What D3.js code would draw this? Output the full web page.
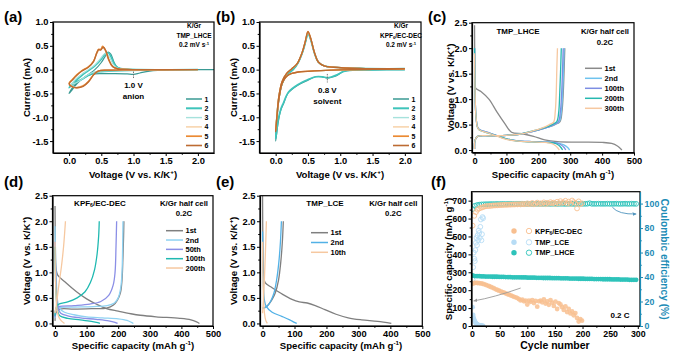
<!DOCTYPE html>
<html>
<head>
<meta charset="utf-8">
<script src="https://cdn.jsdelivr.net/npm/d3@7"></script>
<style>
  body { margin: 0; background: #fff; }
  svg { display: block; font-family: "Liberation Sans", Arial, sans-serif; font-weight: bold; }
</style>
</head>
<body>
<svg id="fig" width="673" height="353"></svg>
<script>
// ---------- data ----------

// (a) CV, K/Gr in TMP_LHCE, cycles 1-6  [voltage, current]
const cvLabels = ["1", "2", "3", "4", "5", "6"];
const cvColors = ["#3a9a93", "#3fc4bb", "#a6e2dc", "#f7cfa2", "#eb8a33", "#bd6b32"];
const cvWidths = [1.2, 1.7, 1.1, 1.1, 1.4, 1.3];

const cvA1 = [[2.25,0],[1.6,-0.005],[1.25,-0.03],[1.1,-0.07],[1.0,-0.1],[0.9,-0.09],[0.7,-0.085],[0.5,-0.085],[0.4,-0.09],[0.3,-0.12],[0.2,-0.2],[0.12,-0.28],[0.05,-0.38],[0.0,-0.5],[0.05,-0.42],[0.1,-0.33],[0.2,-0.2],[0.3,-0.1],[0.4,0.0],[0.5,0.15],[0.56,0.28],[0.61,0.37],[0.65,0.32],[0.7,0.15],[0.75,0.05],[0.85,0.01],[1.0,0.0],[2.0,0.0]];
const cvA2 = [[2.0,0],[1.2,-0.01],[0.8,-0.02],[0.5,-0.04],[0.4,-0.06],[0.3,-0.12],[0.2,-0.2],[0.12,-0.26],[0.05,-0.3],[0.0,-0.38],[0.05,-0.32],[0.1,-0.24],[0.2,-0.12],[0.3,-0.02],[0.4,0.08],[0.5,0.22],[0.56,0.33],[0.6,0.36],[0.64,0.3],[0.7,0.12],[0.76,0.04],[0.9,0.01],[2.0,0]];
const cvA3 = [[2.0,0],[1.2,-0.01],[0.8,-0.02],[0.5,-0.03],[0.4,-0.05],[0.3,-0.1],[0.2,-0.2],[0.12,-0.27],[0.05,-0.3],[0.0,-0.33],[0.05,-0.28],[0.1,-0.2],[0.2,-0.09],[0.3,0.0],[0.4,0.1],[0.48,0.22],[0.54,0.32],[0.58,0.34],[0.62,0.28],[0.68,0.12],[0.74,0.04],[0.9,0.01],[2.0,0]];
const cvA4 = [[2.0,0],[1.0,-0.005],[0.6,-0.01],[0.45,-0.03],[0.38,-0.1],[0.3,-0.24],[0.22,-0.33],[0.12,-0.37],[0.05,-0.35],[0.0,-0.28],[0.05,-0.2],[0.12,-0.1],[0.2,-0.02],[0.3,0.06],[0.38,0.18],[0.43,0.33],[0.47,0.42],[0.5,0.44],[0.53,0.45],[0.57,0.38],[0.62,0.2],[0.68,0.06],[0.75,0.02],[0.9,0.005],[2.0,0]];
const cvA5 = [[2.0,0],[1.0,-0.005],[0.6,-0.01],[0.45,-0.03],[0.38,-0.11],[0.3,-0.25],[0.22,-0.34],[0.12,-0.38],[0.05,-0.36],[0.0,-0.29],[0.05,-0.21],[0.12,-0.11],[0.2,-0.02],[0.3,0.06],[0.38,0.18],[0.43,0.36],[0.46,0.43],[0.49,0.42],[0.52,0.49],[0.56,0.42],[0.61,0.22],[0.67,0.07],[0.75,0.02],[0.9,0.005],[2.0,0]];
const cvA6 = [[2.0,0],[1.0,-0.005],[0.6,-0.01],[0.45,-0.03],[0.38,-0.11],[0.3,-0.26],[0.22,-0.35],[0.12,-0.38],[0.05,-0.36],[0.0,-0.3],[0.05,-0.22],[0.12,-0.12],[0.2,-0.03],[0.3,0.05],[0.38,0.17],[0.43,0.35],[0.46,0.42],[0.49,0.41],[0.53,0.47],[0.57,0.4],[0.62,0.2],[0.68,0.06],[0.75,0.02],[0.9,0.005],[2.0,0]];

// (b) CV, K/Gr in KPF6/EC-DEC
const cvB1 = [[2.0,0],[1.5,-0.005],[1.2,-0.01],[1.05,-0.04],[0.95,-0.12],[0.87,-0.16],[0.8,-0.18],[0.72,-0.15],[0.62,-0.15],[0.5,-0.22],[0.35,-0.32],[0.2,-0.48],[0.12,-0.72],[0.08,-0.85],[0.04,-1.1],[0.0,-1.5],[0.02,-1.05],[0.05,-0.62],[0.1,-0.3],[0.18,-0.1],[0.27,0.0],[0.35,0.15],[0.42,0.38],[0.47,0.62],[0.5,0.77],[0.54,0.65],[0.6,0.35],[0.66,0.16],[0.75,0.08],[0.9,0.05],[1.3,0.025],[2.0,0.02]];
const cvB2 = [[2.0,0],[1.5,-0.005],[1.2,-0.01],[1.05,-0.04],[0.95,-0.11],[0.87,-0.15],[0.8,-0.17],[0.72,-0.15],[0.62,-0.15],[0.5,-0.21],[0.35,-0.31],[0.2,-0.47],[0.12,-0.7],[0.08,-0.83],[0.04,-1.05],[0.0,-1.45],[0.02,-1.0],[0.05,-0.6],[0.1,-0.29],[0.18,-0.1],[0.27,0.0],[0.35,0.15],[0.42,0.38],[0.47,0.62],[0.5,0.76],[0.54,0.64],[0.6,0.35],[0.66,0.16],[0.75,0.08],[0.9,0.05],[1.3,0.025],[2.0,0.02]];
const cvB3 = [[2.0,0.01],[1.5,0.005],[1.0,-0.005],[0.7,-0.02],[0.5,-0.035],[0.35,-0.05],[0.25,-0.08],[0.2,-0.11],[0.15,-0.17],[0.1,-0.28],[0.07,-0.45],[0.04,-0.7],[0.0,-1.25],[0.02,-0.95],[0.05,-0.55],[0.1,-0.25],[0.17,-0.08],[0.25,0.02],[0.33,0.12],[0.41,0.36],[0.46,0.6],[0.5,0.78],[0.54,0.66],[0.6,0.36],[0.66,0.16],[0.75,0.08],[0.9,0.05],[1.3,0.025],[2.0,0.02]];
const cvB4 = [[2.0,0.01],[1.5,0.005],[1.0,-0.005],[0.7,-0.02],[0.5,-0.035],[0.35,-0.05],[0.25,-0.08],[0.2,-0.11],[0.15,-0.17],[0.1,-0.28],[0.07,-0.45],[0.04,-0.7],[0.0,-1.25],[0.02,-0.95],[0.05,-0.55],[0.1,-0.25],[0.17,-0.08],[0.25,0.02],[0.33,0.12],[0.41,0.36],[0.46,0.6],[0.5,0.79],[0.54,0.67],[0.6,0.36],[0.66,0.16],[0.75,0.08],[0.9,0.05],[1.3,0.025],[2.0,0.02]];
const cvB5 = [[2.0,0.01],[1.5,0.005],[1.0,-0.005],[0.7,-0.02],[0.5,-0.035],[0.35,-0.05],[0.25,-0.08],[0.2,-0.11],[0.15,-0.17],[0.1,-0.29],[0.07,-0.46],[0.04,-0.72],[0.0,-1.28],[0.02,-0.96],[0.05,-0.56],[0.1,-0.25],[0.17,-0.08],[0.25,0.02],[0.33,0.12],[0.41,0.36],[0.46,0.6],[0.5,0.8],[0.54,0.67],[0.6,0.36],[0.66,0.16],[0.75,0.08],[0.9,0.05],[1.3,0.025],[2.0,0.02]];
const cvB6 = [[2.0,0.01],[1.5,0.005],[1.0,-0.005],[0.7,-0.02],[0.5,-0.035],[0.35,-0.05],[0.25,-0.08],[0.2,-0.11],[0.15,-0.17],[0.1,-0.29],[0.07,-0.46],[0.04,-0.72],[0.0,-1.3],[0.02,-0.97],[0.05,-0.56],[0.1,-0.25],[0.17,-0.08],[0.25,0.02],[0.33,0.12],[0.41,0.36],[0.46,0.6],[0.5,0.8],[0.54,0.67],[0.6,0.36],[0.66,0.16],[0.75,0.08],[0.9,0.05],[1.3,0.025],[2.0,0.02]];

// (c) TMP_LHCE GCD  [capacity, voltage]
const gcdC_labels = ["1st", "2nd", "100th", "200th", "300th"];
const gcdC_colors = ["#8a8a8a", "#6fc3ee", "#7d8ee3", "#26b8b0", "#f6c8a0"];
const c1Dis = [[0,2.45],[0.5,1.8],[1,1.4],[3,1.22],[20,1.15],[45,1.0],[70,0.75],[95,0.52],[116,0.35],[150,0.32],[185,0.27],[220,0.2],[260,0.165],[320,0.155],[400,0.15],[430,0.13],[448,0.08],[462,0.0]];
const c1Cha = [[0,0.02],[2,0.2],[10,0.27],[50,0.28],[100,0.29],[140,0.31],[180,0.36],[220,0.43],[252,0.5],[268,0.56],[274,0.75],[278,1.1],[281,1.6],[283,2.0]];
const c2Dis = [[0,2.0],[1.5,1.2],[4,0.7],[9,0.46],[14,0.41],[50,0.33],[100,0.22],[130,0.185],[180,0.165],[230,0.155],[260,0.14],[280,0.1],[292,0.05],[298,0.0]];
const c2Cha = [[0,0.02],[2,0.2],[10,0.27],[50,0.28],[100,0.29],[140,0.31],[180,0.36],[220,0.43],[250,0.5],[266,0.56],[272,0.75],[276,1.1],[279,1.6],[281,2.0]];
const c100Dis = [[0,2.0],[1.5,1.2],[4,0.7],[9,0.46],[14,0.41],[50,0.33],[100,0.22],[130,0.185],[180,0.165],[230,0.155],[255,0.14],[272,0.1],[281,0.05],[286,0.0]];
const c100Cha = [[0,0.02],[2,0.2],[10,0.27],[50,0.28],[100,0.29],[140,0.31],[180,0.36],[220,0.43],[248,0.5],[263,0.56],[269,0.75],[273,1.1],[276,1.6],[278,2.0]];
const c200Dis = [[0,2.0],[1.5,1.2],[4,0.7],[9,0.45],[14,0.4],[50,0.32],[100,0.22],[130,0.18],[180,0.16],[225,0.15],[248,0.14],[263,0.1],[271,0.05],[276,0.0]];
const c200Cha = [[0,0.02],[2,0.2],[10,0.27],[50,0.28],[100,0.29],[140,0.31],[180,0.37],[220,0.44],[243,0.5],[258,0.56],[264,0.75],[267,1.1],[270,1.6],[272,2.0]];
const c300Dis = [[0,1.9],[1.5,1.2],[4,0.7],[9,0.45],[14,0.4],[50,0.32],[100,0.21],[130,0.18],[180,0.16],[220,0.15],[240,0.13],[253,0.09],[261,0.04],[266,0.0]];
const c300Cha = [[0,0.02],[2,0.2],[10,0.27],[50,0.28],[100,0.29],[140,0.31],[180,0.37],[215,0.44],[235,0.5],[248,0.55],[253,0.75],[256,1.1],[258,1.6],[260,2.0]];

// (d) KPF6/EC-DEC GCD
const gcdD_labels = ["1st", "2nd", "50th", "100th", "200th"];
const gcdD_colors = ["#7f7f7f", "#8fd2f2", "#8b8fe6", "#1fb9b1", "#f6c8a0"];
const d1Dis = [[0,2.3],[1,1.6],[3,1.1],[8,0.95],[30,0.82],[68,0.62],[100,0.48],[130,0.38],[163,0.29],[200,0.24],[240,0.19],[270,0.16],[320,0.13],[395,0.1],[430,0.07],[448,0.03],[457,0.0]];
const d1Cha = [[0,0.05],[4,0.22],[15,0.28],[60,0.28],[120,0.29],[163,0.3],[185,0.36],[197,0.45],[207,0.6],[212,0.85],[215,1.3],[217,1.7],[218,2.0]];
const d2Dis = [[0,1.9],[2,1.2],[5,0.7],[8,0.45],[14,0.3],[30,0.22],[60,0.17],[100,0.13],[150,0.11],[200,0.09],[228,0.06],[242,0.02],[248,0.0]];
const d2Cha = [[0,0.1],[4,0.28],[12,0.31],[60,0.32],[120,0.33],[165,0.35],[188,0.4],[200,0.5],[208,0.7],[212,1.0],[214,1.5],[215,2.0]];
const d50Dis = [[0,1.6],[2,1.0],[6,0.5],[10,0.3],[18,0.2],[40,0.15],[80,0.11],[130,0.08],[170,0.05],[190,0.02],[198,0.0]];
const d50Cha = [[0,0.12],[4,0.3],[12,0.33],[60,0.35],[110,0.38],[145,0.43],[170,0.55],[184,0.75],[190,1.0],[193,1.5],[195,2.0]];
const d100Dis = [[0,1.5],[1,1.0],[4,0.5],[8,0.25],[15,0.15],[40,0.1],[80,0.07],[115,0.04],[135,0.015],[142,0.0]];
const d100Cha = [[0,0.15],[3,0.3],[10,0.37],[40,0.42],[70,0.5],[95,0.62],[112,0.8],[125,1.05],[133,1.35],[138,1.7],[140,2.0]];
const d200Dis = [[0,1.6],[1,1.0],[3,0.6],[6,0.3],[12,0.12],[20,0.05],[30,0.0]];
const d200Cha = [[0,0.2],[5,0.4],[12,0.75],[20,1.1],[27,1.5],[33,2.0]];

// (e) TMP_LCE GCD
const gcdE_labels = ["1st", "2nd", "10th"];
const gcdE_colors = ["#7f7f7f", "#52b1e6", "#f6c8a0"];
const e1Dis = [[0,2.5],[1,1.6],[3,1.0],[8,0.8],[30,0.7],[60,0.58],[92,0.47],[115,0.42],[140,0.4],[165,0.35],[195,0.27],[230,0.18],[268,0.11],[310,0.07],[360,0.04],[403,0.0]];
const e1Cha = [[0,0.3],[10,0.32],[20,0.38],[30,0.47],[40,0.6],[50,0.85],[57,1.2],[62,1.6],[65,2.0]];
const e2Dis = [[0,1.8],[1,1.2],[3,0.7],[6,0.45],[11,0.34],[30,0.22],[60,0.14],[85,0.07],[100,0.02],[107,0.0]];
const e2Cha = [[0,0.3],[8,0.31],[15,0.34],[25,0.43],[35,0.58],[44,0.85],[51,1.2],[56,1.6],[59,2.0]];
const e10Dis = [[0,1.6],[1,1.0],[3,0.5],[6,0.2],[10,0.06],[15,0.0]];
const e10Cha = [[0,0.2],[3,0.5],[6,0.9],[9,1.4],[12,2.0]];

// (f) cycling
const cycLabels = ["KPF6/EC-DEC", "TMP_LCE", "TMP_LHCE"];
const cycColors = ["#f8bf90", "#b7dcf5", "#2ec3ba"];
const kpfCycles = [1,4,7,10,13,16,19,22,25,28,31,34,37,40,43,46,49,52,55,58,61,64,67,70,73,76,79,82,85,88,91,94,97,100,103,106,109,112,115,118,121,124,127,130,133,136,139,142,145,148,151,154,157,160,163,166,169,172,175,178,181,184,187,190,193,196,199];
const kpfCap = [236,240,241,240,239,238,236, 233,230,226,222,218,214,210, 205,201,197,193,189,186,182, 178,175,171,167,163,160,156, 150,143,147,138,142,120,141, 135,145,128,140,108,138,142, 132,148,125,137,118,145,130, 112,136,95,128,120,105,90, 110,78,95,70,82,60,72, 45,25,38,30];
const kpfCE = [82,90,93,95,96,96.5,97, 97.5,97.8,98,98,98.2,98.3,98.5, 98.5,98.6,98.7,98.8,98.8,99,99, 99,99.2,99.1,99.3,99.2,99.4,99.3, 99.5,99.3,99.8,99.4,99.6,100.2,99.5, 99.7,100.5,99.4,99.8,100.8,99.6,100.2, 99.8,101,99.5,100.6,99.9,101.2,100.3, 100.8,99.6,101.5,100.2,102,100.5,101, 102.3,100,101.6,99.7,102.5,101.2,100.5, 96,101.8,99.5,100.2];
const lceCycles = [1,2,3,4,5,6,7,8,9,10,11,12,13,14,15,16,17,18,19,20];
const lceCap = [105,62,45,35,27,20,16,12,10,8,6,5,4,3,3,2,2,1,1,1];
const lceCE = [38,48,60,55,53,62,68,72,66,74,70,78,76,72,81,87,70,75,89,88];
const lhceCycles = [1,5,9,13,17,21,25,29,33,37,41,45,49,53,57,61,65,69,73,77,81,85,89,93,97,101,105,109,113,117,121,125,129,133,137,141,145,149,153,157,161,165,169,173,177,181,185,189,193,197,201,205,209,213,217,221,225,229,233,237,241,245,249,253,257,261,265,269,273,277,281,285,289,293,297];
const lhceCap = [282,279,278,278,277,277,276,276,276,275, 275,275,274,274,274,273,273,273,272,272, 272,272,271,271,271,270,270,270,270,269, 269,269,268,268,268,268,267,267,267,267, 266,266,266,266,265,265,265,265,264,264, 264,263,263,263,263,262,262,262,262,261, 261,261,261,260,260,260,260,259,259,259, 259,258,258,258,258];
const lhceCE = [95.5,98.2,98.8,99.1,99.3,99.4,99.5,99.5,99.6,99.6, 99.6,99.7,99.6,99.7,99.7,99.6,99.7,99.7,99.7,99.6, 99.7,99.7,99.8,99.7,99.7,99.7,99.8,99.7,99.7,99.8, 99.7,99.8,99.7,99.8,99.8,99.7,99.8,99.8,99.7,99.8, 99.8,99.8,99.7,99.8,99.8,99.8,99.7,99.8,99.8,99.8, 99.8,99.8,99.9,100.3,99.8,99.8,99.8,99.9,99.8,99.8, 99.8,99.9,99.8,99.8,99.8,99.9,99.8,99.8,99.8,99.9, 99.8,99.8,99.9,99.8,99.8];

// ---------- helpers ----------
const svg = d3.select("#fig");
const defs = svg.append("defs");
const ceBlue = "#1c8cb6";

// text with optional super/subscript pieces
function label(g, x, y, parts, size, opt = {}) {
    const t = g.append("text")
        .attr("x", x).attr("y", y)
        .attr("text-anchor", opt.anchor || "middle")
        .attr("fill", opt.fill || "#000")
        .style("font-size", size + "px");
    if (opt.rotate) t.attr("transform", `rotate(${opt.rotate},${x},${y})`);
    let shift = 0;
    (Array.isArray(parts) ? parts : [parts]).forEach(p => {
        const o = typeof p === "string" ? { t: p } : p;
        const target = o.s === "sup" ? -size * 0.38 : o.s === "sub" ? size * 0.22 : 0;
        const ts = t.append("tspan").text(o.t).attr("dy", target - shift);
        if (o.s) ts.style("font-size", (size * 0.65) + "px");
        shift = target;
    });
    return t;
}

function styleAxis(sel, color, minor, fs) {
    sel.attr("font-family", null).attr("font-size", null);
    if (minor) sel.select(".domain").remove();
    sel.select(".domain").attr("stroke", color).attr("stroke-width", 1.2);
    sel.selectAll(".tick line").attr("stroke", color).attr("stroke-width", 1);
    sel.selectAll(".tick text").attr("fill", color).style("font-size", fs + "px");
}

function addAxis(g, axisFn, scale, pos, major, minor, fmt, color = "#000", fs = 9.3) {
    const tr = axisFn === d3.axisBottom ? `translate(0,${pos})` : `translate(${pos},0)`;
    g.append("g").attr("transform", tr)
        .call(axisFn(scale).tickValues(minor).tickSize(1.8).tickSizeOuter(0).tickFormat(() => ""))
        .call(s => styleAxis(s, color, true, fs));
    g.append("g").attr("transform", tr)
        .call(axisFn(scale).tickValues(major).tickSize(3).tickSizeOuter(0).tickPadding(1.6).tickFormat(fmt))
        .call(s => styleAxis(s, color, false, fs));
}

let clipN = 0;
function makePanel(box, xDom, yDom) {
    const [l, t, r, b] = box;
    const x = d3.scaleLinear().domain(xDom).range([l, r]);
    const y = d3.scaleLinear().domain(yDom).range([b, t]);
    const id = "clip" + (clipN++);
    defs.append("clipPath").attr("id", id)
        .append("rect").attr("x", l).attr("y", t).attr("width", r - l).attr("height", b - t);
    const g = svg.append("g");
    const plot = g.append("g").attr("clip-path", `url(#${id})`);
    return { g, plot, x, y, box };
}

function frame(p) {
    const [l, t, r, b] = p.box;
    p.g.append("rect").attr("x", l).attr("y", t).attr("width", r - l).attr("height", b - t)
        .attr("fill", "none").attr("stroke", "#000").attr("stroke-width", 1.2);
}

function curve(p, data, color, width) {
    const line = d3.line().x(d => p.x(d[0])).y(d => p.y(d[1])).curve(d3.curveCatmullRom.alpha(0.5));
    p.plot.append("path").datum(data)
        .attr("d", line).attr("fill", "none")
        .attr("stroke", color).attr("stroke-width", width)
        .attr("stroke-linejoin", "round");
}

function lineLegend(g, names, colors, x0, x1, y0, dy, size, widths) {
    names.forEach((n, i) => {
        const yy = y0 + i * dy;
        g.append("line").attr("x1", x0).attr("x2", x1).attr("y1", yy).attr("y2", yy)
            .attr("stroke", colors[i]).attr("stroke-width", widths ? widths[i] + 0.3 : 1.5);
        label(g, x1 + 2.5, yy + size * 0.36, n, size, { anchor: "start" });
    });
}

const fmt1 = d => d.toFixed(1);
const fmt0 = d => String(d);
const voltTitle = ["Voltage (V vs. K/K", { t: "+", s: "sup" }, ")"];
const capTitle = ["Specific capacity (mAh g", { t: "-1", s: "sup" }, ")"];
const kpfName = ["KPF", { t: "6", s: "sub" }, "/EC-DEC"];
const rate = ["0.2 mV s", { t: "-1", s: "sup" }];

// ---------- panels (a) and (b): CV ----------
const cvX = [-0.25, 2.25], cvY = [-1.75, 1.0];
const cvXMaj = [0, 0.5, 1, 1.5, 2], cvXMin = [0.25, 0.75, 1.25, 1.75];
const cvYMaj = [-1.5, -1, -0.5, 0, 0.5, 1], cvYMin = [-1.25, -0.75, -0.25, 0.25, 0.75];

function cvPanel(box, series, note, mark, letter, letterX, titleX, ylabX) {
    const p = makePanel(box, cvX, cvY);
    series.forEach((s, i) => curve(p, s, cvColors[i], cvWidths[i]));
    frame(p);
    addAxis(p.g, d3.axisBottom, p.x, box[3], cvXMaj, cvXMin, fmt1);
    addAxis(p.g, d3.axisLeft, p.y, box[0], cvYMaj, cvYMin, fmt1);
    // dashed marker at the reduction feature
    p.g.append("line")
        .attr("x1", p.x(mark.v)).attr("x2", p.x(mark.v))
        .attr("y1", p.y(mark.i0)).attr("y2", p.y(mark.i1))
        .attr("stroke", "#666").attr("stroke-width", 0.9).attr("stroke-dasharray", "1.5,1");
    label(p.g, p.x(mark.v), mark.ty, mark.t1, 8);
    label(p.g, p.x(mark.v), mark.ty + 11, mark.t2, 8);
    const cx = box[2] - 20;
    label(p.g, cx, 28, "K/Gr", 6.5);
    label(p.g, cx, 37.5, note, 6.5);
    label(p.g, cx, 47, rate, 6.5);
    lineLegend(p.g, cvLabels, cvColors, box[2] - 28, box[2] - 12, 99, 9.3, 7, cvWidths);
    label(svg, letterX, 22, "(" + letter + ")", 15, { anchor: "start" });
    label(svg, titleX, 178, voltTitle, 9.6);
    label(svg, ylabX, (box[1] + box[3]) / 2, "Current (mA)", 9.6, { rotate: -90 });
}

cvPanel([53, 22, 214, 153], [cvA1, cvA2, cvA3, cvA4, cvA5, cvA6], "TMP_LHCE",
    { v: 1.0, i0: -0.04, i1: -0.19, t1: "1.0 V", t2: "anion", ty: 88 }, "a", 4, 133, 30);
cvPanel([259.5, 22, 421, 153], [cvB1, cvB2, cvB3, cvB4, cvB5, cvB6], kpfName,
    { v: 0.8, i0: -0.09, i1: -0.27, t1: "0.8 V", t2: "solvent", ty: 93 }, "b", 216, 340, 237);

// ---------- panels (c), (d), (e): charge/discharge ----------
const gX = [-8, 500], gY = [-0.05, 2.5];
const gXMaj = [0, 100, 200, 300, 400, 500], gXMin = [50, 150, 250, 350, 450];
const gYMaj = [0, 0.5, 1, 1.5, 2, 2.5], gYMin = [0.25, 0.75, 1.25, 1.75, 2.25];

function gcdPanel(box, pairs, names, colors, title, legY, legX, letter, letterX, letterY, titleX, titleY, ylabX) {
    const p = makePanel(box, gX, gY);
    pairs.forEach((pr, i) => pr.forEach(s => curve(p, s, colors[i], 1.3)));
    frame(p);
    addAxis(p.g, d3.axisBottom, p.x, box[3], gXMaj, gXMin, fmt0);
    addAxis(p.g, d3.axisLeft, p.y, box[0], gYMaj, gYMin, fmt1);
    const ty = box[1] + (box[1] < 100 ? 11.5 : 9.8);
    label(p.g, title.x, ty, title.t, 8);
    label(p.g, box[2] - 29, ty, "K/Gr half cell", 7.8);
    label(p.g, box[2] - 29, ty + 10.8, "0.2C", 7.8);
    lineLegend(p.g, names, colors, legX, legX + 17, legY, legY > 200 ? (names.length === 3 ? 9.8 : 9.33) : 10, 7.5);
    label(svg, letterX, letterY, "(" + letter + ")", 15, { anchor: "start" });
    label(svg, titleX, titleY, capTitle, 9.6);
    label(svg, ylabX, (box[1] + box[3]) / 2, voltTitle, 9.6, { rotate: -90 });
}

gcdPanel([472, 22.7, 634, 152.6],
    [[c1Dis, c1Cha], [c2Dis, c2Cha], [c100Dis, c100Cha], [c200Dis, c200Cha], [c300Dis, c300Cha]],
    gcdC_labels, gcdC_colors, { x: 518, t: "TMP_LHCE" }, 68.3, 585, "c", 428, 22, 553, 178, 454);
gcdPanel([52.5, 195.7, 213, 326],
    [[d1Dis, d1Cha], [d2Dis, d2Cha], [d50Dis, d50Cha], [d100Dis, d100Cha], [d200Dis, d200Cha]],
    gcdD_labels, gcdD_colors, { x: 100, t: kpfName }, 230.7, 166, "d", 4, 187, 133, 348.5, 30);
gcdPanel([260, 195.7, 422.3, 326],
    [[e1Dis, e1Cha], [e2Dis, e2Cha], [e10Dis, e10Cha]],
    gcdE_labels, gcdE_colors, { x: 325, t: "TMP_LCE" }, 232.7, 311, "e", 216, 187, 341, 348.5, 237);

// ---------- panel (f): cycling ----------
const pf = makePanel([471.5, 191.7, 640, 326], [-1, 304], [0, 750]);
const yCE = d3.scaleLinear().domain([0, 109.7]).range([326, 191.7]);
const R = 2.4;

function dots(cyc, vals, yScale, color, filled, alpha) {
    pf.plot.append("g").selectAll("circle").data(cyc).join("circle")
        .attr("cx", d => pf.x(d))
        .attr("cy", (d, i) => yScale(vals[i]))
        .attr("r", R)
        .attr("fill", filled ? color : "none")
        .attr("fill-opacity", alpha)
        .attr("stroke", filled ? "none" : color)
        .attr("stroke-width", 0.9);
}
dots(lhceCycles, lhceCE, yCE, cycColors[2], false, 1);
dots(kpfCycles, kpfCE, yCE, cycColors[0], false, 1);
dots(lceCycles, lceCE, yCE, cycColors[1], false, 1);
dots(kpfCycles, kpfCap, pf.y, cycColors[0], true, 0.85);
dots(lceCycles, lceCap, pf.y, cycColors[1], true, 0.9);
dots(lhceCycles, lhceCap, pf.y, cycColors[2], true, 1);

frame(pf);
addAxis(pf.g, d3.axisBottom, pf.x, 326, [0, 50, 100, 150, 200, 250, 300], [25, 75, 125, 175, 225, 275], fmt0, "#000", 8.8);
addAxis(pf.g, d3.axisLeft, pf.y, 471.5, [0, 100, 200, 300, 400, 500, 600, 700], [50, 150, 250, 350, 450, 550, 650], fmt0, "#000", 8.6);
addAxis(pf.g, d3.axisRight, yCE, 640, [0, 20, 40, 60, 80, 100], [10, 30, 50, 70, 90], fmt0, ceBlue, 8.8);

// legend
[231, 242.3, 252.7].forEach((yy, i) => {
    pf.g.append("circle").attr("cx", 514).attr("cy", yy).attr("r", R + 0.3).attr("fill", cycColors[i]);
    pf.g.append("circle").attr("cx", 529).attr("cy", yy).attr("r", R + 0.3)
        .attr("fill", "none").attr("stroke", cycColors[i]).attr("stroke-width", 0.9);
    label(pf.g, 535, yy + 2.6, i === 0 ? kpfName : cycLabels[i], 7.3, { anchor: "start" });
});
label(pf.g, 620, 318, "0.2 C", 8);

// guide arrows
function arrowHead(id, color) {
    defs.append("marker").attr("id", id).attr("viewBox", "0 0 10 10")
        .attr("refX", 8).attr("refY", 5).attr("markerWidth", 5).attr("markerHeight", 5)
        .attr("orient", "auto")
        .append("path").attr("d", "M0,1 L9,5 L0,9 Z").attr("fill", color);
}
arrowHead("ahGrey", "#9a9a9a");
arrowHead("ahBlue", "#4f94bd");
pf.g.append("path")
    .attr("d", `M${pf.x(88)},${pf.y(212)} Q${pf.x(40)},${pf.y(160)} ${pf.x(3)},${pf.y(140)}`)
    .attr("fill", "none").attr("stroke", "#9a9a9a").attr("stroke-width", 0.9).attr("marker-end", "url(#ahGrey)");
pf.g.append("path")
    .attr("d", `M${pf.x(254)},${yCE(97)} Q${pf.x(265)},${yCE(91)} ${pf.x(297)},${yCE(91.5)}`)
    .attr("fill", "none").attr("stroke", "#4f94bd").attr("stroke-width", 0.9).attr("marker-end", "url(#ahBlue)");

label(svg, 431, 187, "(f)", 15, { anchor: "start" });
label(svg, 555, 348.5, "Cycle number", 10.5);
label(svg, 452, 259, capTitle, 9.6, { rotate: -90 });
label(svg, 661, 259, "Coulombic efficiency (%)", 10.2, { rotate: 90, fill: ceBlue });
</script>
</body>
</html>
